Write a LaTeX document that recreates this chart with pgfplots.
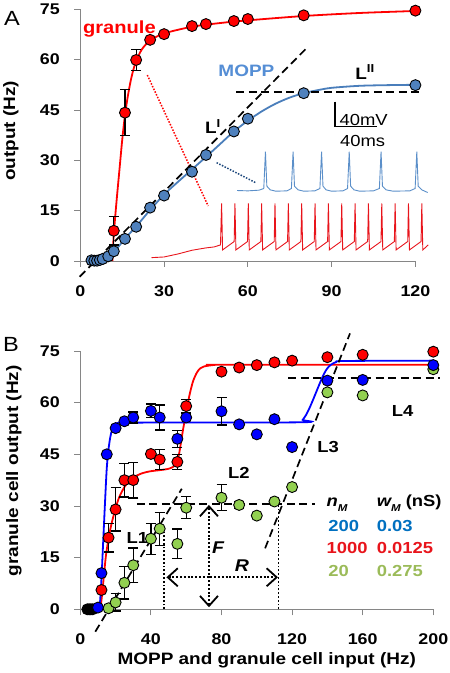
\documentclass[border=0pt]{standalone}
\usepackage{fontspec}
\setmainfont{Liberation Sans}[FakeStretch=1.15]
\usepackage{pgfplots}
\pgfplotsset{compat=1.18}
\usetikzlibrary{arrows.meta}
\definecolor{gred}{HTML}{FF0000}
\definecolor{tred}{HTML}{E8141B}
\definecolor{mopp}{HTML}{4F81BD}
\definecolor{moppline}{HTML}{4A7EBB}
\definecolor{mopptext}{HTML}{558ED5}
\definecolor{trace}{HTML}{5B8FC9}
\definecolor{bblue}{HTML}{0000FF}
\definecolor{tblue}{HTML}{0070C0}
\definecolor{ggreen}{HTML}{92D050}
\definecolor{tgreen}{HTML}{9BBB59}
\definecolor{navy}{HTML}{1F497D}
\definecolor{axgray}{HTML}{868686}
\newcommand{\fs}[1]{\fontsize{#1}{#1}\selectfont}
\pgfplotsset{
  exstyle/.style={
    scale only axis, clip=false, axis lines=left,
    axis line style={-, draw=axgray, line width=0.9bp},
    tick align=outside, major tick length=6bp,
    tick style={draw=axgray, line width=0.9bp},
    enlargelimits=false,
    /pgf/number format/assume math mode=true,
    tick label style={font=\fs{15.5bp}\bfseries},
    xticklabel style={yshift=-15bp},
    yticklabel style={xshift=-11bp},
  },
  mk/.style={only marks, mark=*, mark size=5.5bp,
    mark options={solid, draw=black, line width=0.9bp, fill=#1}},
  eb/.style={only marks, mark=none, black,
    error bars/.cd, y dir=both, y explicit,
    error bar style={black, solid, line width=1.3bp},
    error mark options={rotate=90, mark size=5bp, black, solid, line width=1.3bp}},
  dsh/.style={black, line width=1.7bp, dash pattern=on 8bp off 4.5bp},
  dtt/.style={black, line width=1.9bp, dash pattern=on 1.9bp off 1.9bp},
  barb/.style={arrows={Straight Barb[length=10bp,width=18bp,line width=1.8bp]-Straight Barb[length=10bp,width=18bp,line width=1.8bp]}},
}
\begin{document}
\begin{tikzpicture}[x=1bp,y=1bp]
\path[use as bounding box] (0bp,0bp) rectangle (450bp,673bp);
% ---------------- Panel A ----------------
\begin{axis}[exstyle, at={(80.3bp,412bp)}, anchor=south west,
  width=335.1bp, height=251.7bp,
  xmin=0, xmax=120, ymin=0, ymax=75,
  xtick={0,30,60,90,120}, ytick={0,15,30,45,60,75}]
% dotted connectors
\addplot[gred, line width=1.5bp, dash pattern=on 1.5bp off 1.5bp] coordinates {(24.0,55.4) (45.8,16.4)};
\addplot[navy, line width=1.5bp, dash pattern=on 1.5bp off 1.5bp] coordinates {(48.8,29.3) (63.1,23.2)};
% blue (MOPP) voltage trace
\addplot[trace, line width=0.9bp] coordinates {
(56.2,21.0)(60,20.9)(64,21.1)(65.7,21.6)(66.3,32.6)(66.8,22.3)(68,21.2)(70,20.8)
(74,20.9)(75.6,21.6)(76.2,32.6)(76.7,22.3)(78,21.2)(80,20.8)
(84,20.9)(85.8,21.6)(86.4,32.6)(86.9,22.3)(88,21.2)(90,20.8)
(94,20.9)(95.7,21.6)(96.3,32.6)(96.8,22.3)(98,21.2)(100,20.8)
(105,20.9)(107.1,21.6)(107.7,32.6)(108.2,22.3)(109.5,21.2)(112,20.8)
(118,20.9)(119.9,21.6)(120.5,32.6)(121,22.3)(122.3,21.2)(124.4,20.4)};
% red (granule) voltage trace
\addplot[tred, line width=0.9bp] coordinates {
(25.5,1.0)(30,1.2)(35,2.1)(40,3.2)(45,3.9)(48,4.2)(50.2,4.8)(50.6,17.2)
(50.95,3.3)(55.10,5.8)(55.38,17.2)
(55.73,3.3)(59.88,5.8)(60.16,17.2)
(60.51,3.3)(64.66,5.8)(64.94,17.2)
(65.29,3.3)(69.44,5.8)(69.72,17.2)
(70.07,3.3)(74.22,5.8)(74.50,17.2)
(74.85,3.3)(79.00,5.8)(79.28,17.2)
(79.63,3.3)(83.78,5.8)(84.06,17.2)
(84.41,3.3)(88.56,5.8)(88.84,17.2)
(89.19,3.3)(93.34,5.8)(93.62,17.2)
(93.97,3.3)(98.12,5.8)(98.40,17.2)
(98.75,3.3)(102.90,5.8)(103.18,17.2)
(103.53,3.3)(107.68,5.8)(107.96,17.2)
(108.31,3.3)(112.46,5.8)(112.74,17.2)
(113.09,3.3)(117.24,5.8)(117.52,17.2)
(117.87,3.3)(122.02,5.8)(122.30,17.2)
(122.65,3.3)(124.6,4.8)};
% scale bar
\addplot[black, line width=1.3bp] coordinates {(91.2,47.5)(91.2,40.0)(106.3,40.0)};
% fitted curves
\addplot[gred, line width=1.8bp, smooth] coordinates {
(11.5,0)(12,8)(13,18)(14,27)(15,36)(16,43.5)(17,49)(18,53.5)(19,57)(20,59.5)(22,63)(25,65.7)
(30,67.8)(40,69.8)(50,70.9)(60,71.7)(80,73)(100,73.9)(120,74.5)};
\addplot[moppline, line width=1.8bp, smooth] coordinates {
(4,0)(6,0.1)(8,0.4)(10,1.3)(12,2.8)(14,4.6)(16,6.7)(20,10.3)(25,15.2)(30,19.8)(35,23.6)
(40,27.3)(45,31)(50,34.8)(55,38.6)(60,41.8)(65,44.6)(70,46.9)(75,48.7)(80,50)(85,50.9)
(90,51.6)(100,52.2)(110,52.4)(120,52.5)};
% dashed lines
\addplot[dsh] coordinates {(-0.25,-4.7)(81.6,63.9)};
\addplot[dsh] coordinates {(55.9,50.3)(122.3,50.3)};
% error bars and markers
\addplot[eb] coordinates {(12,9) +- (0,4.2) (16,44.2) +- (0,6.8) (20,59.9) +- (0,3.2)};
\addplot[mk=mopp] coordinates {(4,0.2)(5,0.1)(6,0.1)(7,0.3)(8,0.6)(10,1.4)(12,2.9)(16,6.6)(20,10.2)
(25,15.9)(30,19.5)(40,26.6)(45,31.6)(55,38.6)(60,42.4)(80,50.0)(120,52.4)};
\addplot[mk=gred] coordinates {(12,9.0)(16,44.2)(20,59.9)(25,65.9)(30,67.6)(40,70.0)(45,70.6)
(55,71.5)(60,72.1)(80,73.2)(120,74.6)};
% labels
\node[anchor=base west, inner sep=0, font=\fs{17.5bp}\bfseries, text=gred] at (axis cs:0.9,67.9) {granule};
\node[anchor=base west, inner sep=0, font=\fs{16.5bp}\bfseries, text=mopptext] at (axis cs:49.4,54.9) {MOPP};
\node[anchor=base west, inner sep=0, font=\fs{16.5bp}\bfseries] at (axis cs:44.6,38.0) {L\textsuperscript{I}};
\node[anchor=base west, inner sep=0, font=\fs{16.5bp}\bfseries] at (axis cs:98.4,54.2) {L\textsuperscript{II}};
\node[anchor=base west, inner sep=0, font=\fs{16bp}] at (axis cs:92.8,40.4) {40mV};
\node[anchor=base west, inner sep=0, font=\fs{16bp}] at (axis cs:93,34.1) {40ms};
\end{axis}
% ---------------- Panel B ----------------
\begin{axis}[exstyle, at={(80.3bp,63.7bp)}, anchor=south west,
  width=353bp, height=258.3bp,
  xmin=0, xmax=200, ymin=0, ymax=75,
  xtick={0,40,80,120,160,200}, ytick={0,15,30,45,60,75}]
% dotted construction lines
\addplot[dtt] coordinates {(47.6,0)(47.6,22.5)};
\addplot[dtt] coordinates {(112.3,0)(112.3,30.6)};
\addplot[dtt, barb] coordinates {(48.8,9.3)(112,9.3)};
\addplot[dtt, barb] coordinates {(72.9,0.6)(72.9,30.3)};
% fitted curves
\addplot[gred, line width=1.8bp, smooth] coordinates {
(10.5,0)(11.5,0.8)(12.5,5)(13.5,10.5)(14.5,15.5)(15.5,19)(16.5,22)(18,25.5)(20,29.3)(22,32.5)
(25,35.5)(28,37.5)(30,38.3)(35,39.5)(40,40.1)(45,40.4)(50,40.8)(53,41.5)(55,43)(56,45.2)
(57,48.3)(58,51.5)(59,54.5)(60,57.3)(61,60)(62,62.5)(63,64.6)(64,66.4)(66,68.7)(68,70)
(70,70.5)(75,70.9)(80,71)(200,71)};
\addplot[bblue, line width=1.8bp, smooth] coordinates {
(10,0)(11,1)(12,9)(13,20)(14,31)(15,41)(16,46.5)(17,50)(18,52)(20,53.3)(25,54)(30,54.2)
(125,54.3)(126,55)(128,56.5)(130,58.6)(132,61)(134,63.5)(136,66)(138,68.3)(140,70)
(142,71)(145,71.8)(150,72.1)(200,72.2)};
% dashed lines
\addplot[dsh] coordinates {(8.5,-6.5)(57.5,35)};
\addplot[dsh] coordinates {(32,30.6)(133,30.6)};
\addplot[dsh] coordinates {(104.7,17.7)(152.8,80.1)};
\addplot[dsh] coordinates {(117.8,67.1)(204,67.1)};
% error bars
\addplot[eb] coordinates {(20,2)+-(0,2.5) (25,7.7)+-(0,4.7) (30,12.8)+-(0,5) (40,20.5)+-(0,4.5)
(45,23.4)+-(0,4.8) (55,19)+-(0,4.3) (60,29.5)+-(0,3.2) (80,32.4)+-(0,3.8) (90,30.3)+-(0,1)};
\addplot[eb] coordinates {(16,20.8)+-(0,4.2) (20,29)+-(0,6.3) (25,37.5)+-(0,4.9) (30,37.5)+-(0,5.2)
(45,43.5)+-(0,3) (55,42.8)+-(0,2.2) (60,59)+-(0,2)};
\addplot[eb] coordinates {(30,55.7)+-(0,1.6) (40,57.6)+-(0,2) (45,55.7)+-(0,3.6) (55,49.5)+-(0,2.5)
(80,57.5)+-(0,4)};
% markers
\addplot[mk=black] coordinates {(4,0)(5,0)(6,0)(7,0)};
\addplot[mk=ggreen] coordinates {(16,0.3)(20,2)(25,7.7)(30,12.8)(40,20.5)(45,23.4)(55,19)(60,29.5)
(80,32.4)(90,30.3)(100,27.2)(110,31.3)(120,35.5)(140,63)(160,62.1)(200,69.7)};
\addplot[mk=gred] coordinates {(12,5.6)(16,20.8)(20,29)(25,37.5)(30,37.5)(40,45.1)(45,43.5)(55,42.8)
(60,59)(80,69)(90,70.2)(100,70.9)(110,71.7)(120,72.2)(140,73.2)(160,73.9)(200,74.8)};
\addplot[mk=bblue] coordinates {(10,0.5)(12,10.5)(15,45)(20,52.6)(25,54.6)(30,55.7)(40,57.6)(45,55.7)
(55,49.5)(60,55.7)(80,57.5)(90,53.7)(100,50.8)(110,55.2)(120,47.1)(140,66.4)(160,66.6)(200,70.9)};
% labels
\node[anchor=base west, inner sep=0, font=\fs{16bp}\bfseries] at (axis cs:26.1,19.2) {L1};
\node[anchor=base west, inner sep=0, font=\fs{16bp}\bfseries] at (axis cs:83.7,38.0) {L2};
\node[anchor=base west, inner sep=0, font=\fs{16bp}\bfseries] at (axis cs:134.2,45.5) {L3};
\node[anchor=base west, inner sep=0, font=\fs{16bp}\bfseries] at (axis cs:176.4,56.1) {L4};
\node[anchor=base west, inner sep=0, font=\fs{17bp}\bfseries\itshape] at (axis cs:74.6,16.3) {F};
\node[anchor=base west, inner sep=0, font=\fs{17bp}\bfseries\itshape] at (axis cs:87.5,10.9) {R};
\node[anchor=base west, inner sep=0, font=\fs{16bp}\bfseries\itshape] at (axis cs:139.5,29.8) {n\raisebox{-0.3em}{\fs{10bp}M}};
\node[anchor=base west, inner sep=0, font=\fs{16bp}\bfseries] at (axis cs:167.9,29.8) {\itshape w\raisebox{-0.3em}{\fs{10bp}M}\upshape\ (nS)};
\node[anchor=base west, inner sep=0, font=\fs{16bp}\bfseries, text=tblue] at (axis cs:140.5,22.5) {200};
\node[anchor=base west, inner sep=0, font=\fs{16bp}\bfseries, text=tblue] at (axis cs:167.9,22.5) {0.03};
\node[anchor=base west, inner sep=0, font=\fs{16bp}\bfseries, text=tred] at (axis cs:139.5,16.1) {1000};
\node[anchor=base west, inner sep=0, font=\fs{16bp}\bfseries, text=tred] at (axis cs:167.9,16.1) {0.0125};
\node[anchor=base west, inner sep=0, font=\fs{16bp}\bfseries, text=tgreen] at (axis cs:140.5,9.5) {20};
\node[anchor=base west, inner sep=0, font=\fs{16bp}\bfseries, text=tgreen] at (axis cs:167.9,9.5) {0.275};
\end{axis}
% outer labels
\node[anchor=base west, inner sep=0, font=\fs{20.5bp}] at (4bp,647bp) {A};
\node[anchor=base west, inner sep=0, font=\fs{20.5bp}] at (3bp,321.3bp) {B};
\node[rotate=90, anchor=base, inner sep=0, font=\fs{16.5bp}\bfseries] at (15bp,542.2bp) {output (Hz)};
\node[rotate=90, anchor=base, inner sep=0, font=\fs{16.5bp}\bfseries] at (18bp,202.2bp) {granule cell output (Hz)};
\node[anchor=base, inner sep=0, font=\fs{16.5bp}\bfseries] at (266.7bp,9bp) {MOPP and granule cell input (Hz)};
\end{tikzpicture}
\end{document}
